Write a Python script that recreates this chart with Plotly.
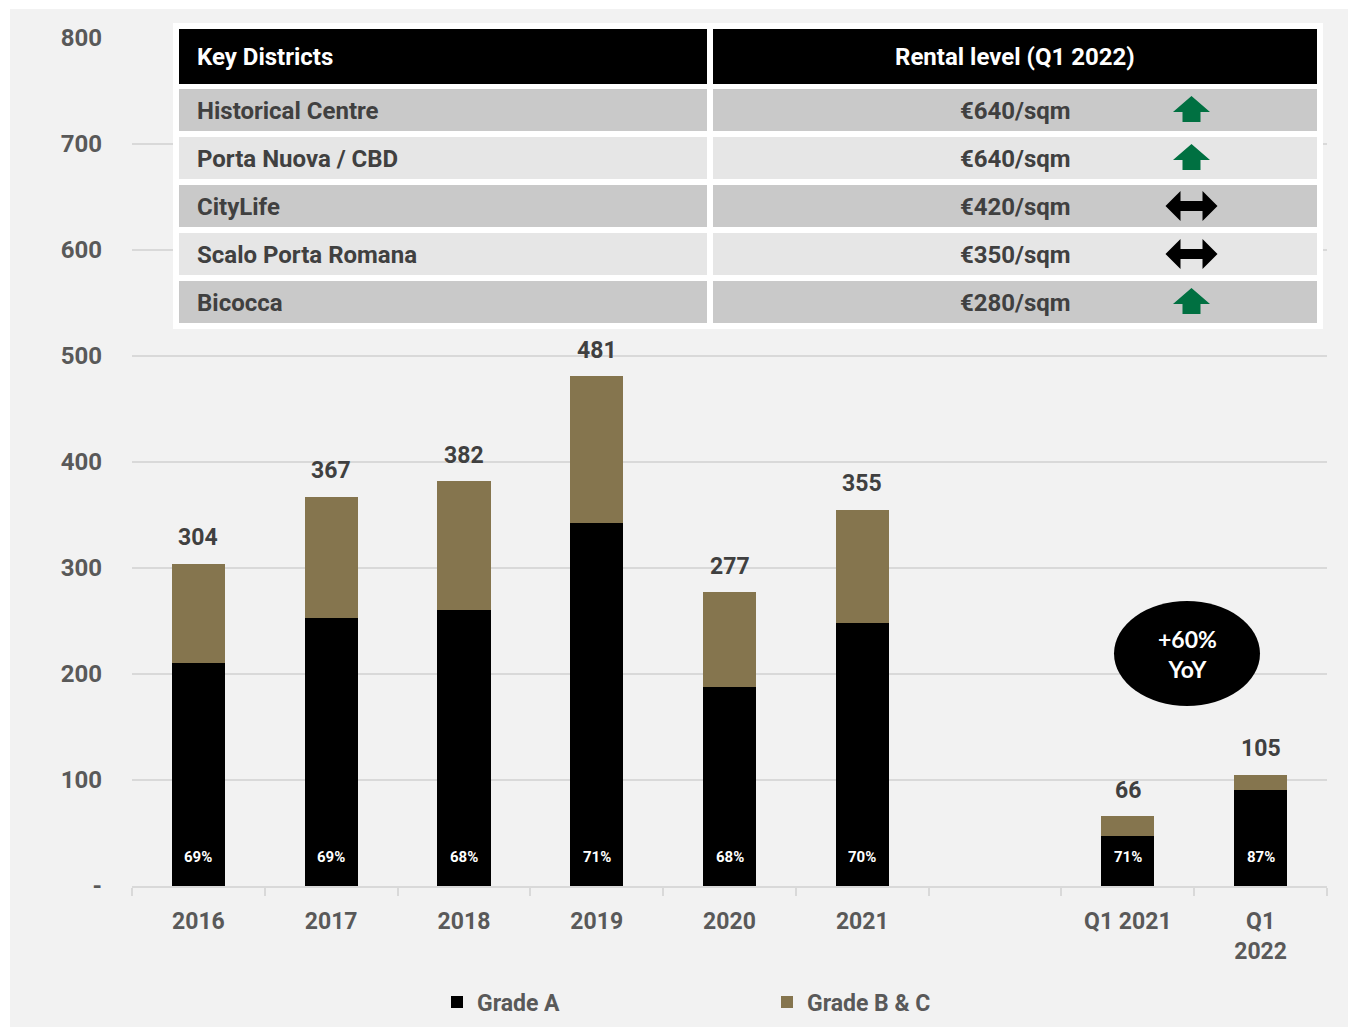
import plotly.graph_objects as go

# Take-up by year (sqm '000), split by grade
categories = ["2016", "2017", "2018", "2019", "2020", "2021", " ", "Q1 2021", "Q1<br>2022"]
totals = [304, 367, 382, 481, 277, 355, None, 66, 105]
grade_a_share = [69, 69, 68, 71, 68, 70, None, 71, 87]  # % of total that is Grade A

y_tick_values = [0, 100, 200, 300, 400, 500, 600, 700, 800]
y_tick_labels = ["-", "100", "200", "300", "400", "500", "600", "700", "800"]

# Rental levels table
table_header = ["Key Districts", "Rental level (Q1 2022)"]
districts = ["Historical Centre", "Porta Nuova / CBD", "CityLife", "Scalo Porta Romana", "Bicocca"]
rents = ["€640/sqm", "€640/sqm", "€420/sqm", "€350/sqm", "€280/sqm"]
trends = ["up", "up", "flat", "flat", "up"]

yoy_text = "+60%<br>YoY"

grade_a = [round(t * s / 100) if t is not None else None for t, s in zip(totals, grade_a_share)]
grade_bc = [t - a if t is not None else None for t, a in zip(totals, grade_a)]

W, H = 1348, 1027
ML, MR, MT, MB = 132, 21, 38, 141
PW, PH = W - ML - MR, H - MT - MB


def px_x(x):
    return (x - ML) / PW


def px_y(y):
    return (H - MB - y) / PH


def path_from_px(points):
    return "M " + " L ".join(f"{px_x(x):.5f},{px_y(y):.5f}" for x, y in points) + " Z"


BLACK = "#000000"
BROWN = "#85754E"
GREEN = "#007041"
AXIS_TXT = "#595959"
LABEL_TXT = "#404040"
GRID = "#d9d9d9"
FONT = "Roboto"

fig = go.Figure()
fig.add_trace(go.Bar(x=categories, y=grade_a, name="Grade A", marker_color=BLACK,
                     marker_line_width=0, hoverinfo="skip"))
fig.add_trace(go.Bar(x=categories, y=grade_bc, name="Grade B & C", marker_color=BROWN,
                     marker_line_width=0, hoverinfo="skip"))

annotations = []
shapes = []

# Totals above the bars, Grade A share at the bar base (positioned by category index)
for idx, (tot, share) in enumerate(zip(totals, grade_a_share)):
    if tot is None:
        continue
    annotations.append(dict(x=idx, y=tot, xref="x", yref="y", text=f"<b>{tot}</b>",
                            showarrow=False, yanchor="middle", yshift=26,
                            font=dict(family=FONT, size=23, color=LABEL_TXT)))
    annotations.append(dict(x=idx, y=0, xref="x", yref="y", text=f"<b>{share}%</b>",
                            showarrow=False, yanchor="middle", yshift=29,
                            font=dict(family=FONT, size=15, color="white")))

# Grey panel behind the chart
shapes.append(dict(type="rect", xref="paper", yref="paper", layer="below",
                   x0=px_x(10), x1=px_x(W), y0=px_y(9), y1=px_y(H),
                   fillcolor="#f2f2f2", line_width=0))

# Table frame
shapes.append(dict(type="rect", xref="paper", yref="paper",
                   x0=px_x(173), x1=px_x(1323), y0=px_y(23), y1=px_y(329),
                   fillcolor="white", line_width=0))
col_x = [(179, 707), (713, 1317)]
# header
for (x0, x1) in col_x:
    shapes.append(dict(type="rect", xref="paper", yref="paper",
                       x0=px_x(x0), x1=px_x(x1), y0=px_y(29), y1=px_y(84),
                       fillcolor=BLACK, line_width=0))
annotations.append(dict(x=px_x(195), y=px_y(57), xref="paper", yref="paper",
                        text=f"<b>{table_header[0]}</b>", showarrow=False,
                        xanchor="left", yanchor="middle",
                        font=dict(family=FONT, size=24, color="white")))
annotations.append(dict(x=px_x(1015), y=px_y(57), xref="paper", yref="paper",
                        text=f"<b>{table_header[1]}</b>", showarrow=False,
                        xanchor="center", yanchor="middle",
                        font=dict(family=FONT, size=24, color="white")))

for i, (name, rent, trend) in enumerate(zip(districts, rents, trends)):
    top = 89 + 48 * i
    bot = top + 42
    cy = (top + bot) / 2
    fill = "#c9c9c9" if i % 2 == 0 else "#e6e6e6"
    for (x0, x1) in col_x:
        shapes.append(dict(type="rect", xref="paper", yref="paper",
                           x0=px_x(x0), x1=px_x(x1), y0=px_y(top), y1=px_y(bot),
                           fillcolor=fill, line_width=0))
    annotations.append(dict(x=px_x(195), y=px_y(cy + 1), xref="paper", yref="paper",
                            text=f"<b>{name}</b>", showarrow=False,
                            xanchor="left", yanchor="middle",
                            font=dict(family=FONT, size=24, color=LABEL_TXT)))
    annotations.append(dict(x=px_x(1015), y=px_y(cy + 1), xref="paper", yref="paper",
                            text=f"<b>{rent}</b>", showarrow=False,
                            xanchor="center", yanchor="middle",
                            font=dict(family=FONT, size=24, color=LABEL_TXT)))
    cx = 1191.5
    if trend == "up":
        pts = [(cx, cy - 14), (cx + 18.5, cy + 2), (cx + 9, cy + 2), (cx + 9, cy + 12),
               (cx - 9, cy + 12), (cx - 9, cy + 2), (cx - 18.5, cy + 2)]
        color = GREEN
    else:
        pts = [(cx - 26, cy), (cx - 11, cy - 15), (cx - 11, cy - 5), (cx + 11, cy - 5),
               (cx + 11, cy - 15), (cx + 26, cy), (cx + 11, cy + 15), (cx + 11, cy + 5),
               (cx - 11, cy + 5), (cx - 11, cy + 15)]
        color = BLACK
    shapes.append(dict(type="path", xref="paper", yref="paper", path=path_from_px(pts),
                       fillcolor=color, line_width=0))

# YoY bubble
shapes.append(dict(type="circle", xref="paper", yref="paper",
                   x0=px_x(1114), x1=px_x(1260), y0=px_y(601), y1=px_y(706),
                   fillcolor=BLACK, line_width=0))
annotations.append(dict(x=px_x(1187), y=px_y(654), xref="paper", yref="paper",
                        text=f"<b>{yoy_text}</b>", showarrow=False,
                        xanchor="center", yanchor="middle",
                        font=dict(family="Lato", size=23, color="white")))

fig.update_layout(
    width=W, height=H, autosize=False,
    margin=dict(l=ML, r=MR, t=MT, b=MB, pad=0),
    paper_bgcolor="white", plot_bgcolor="rgba(0,0,0,0)",
    barmode="stack", bargap=0.6,
    font=dict(family=FONT, size=22, color=AXIS_TXT),
    showlegend=True,
    legend=dict(orientation="h", xref="container", yref="container",
                x=(437) / W, y=(H - 1002) / H, xanchor="left", yanchor="middle",
                entrywidth=285, entrywidthmode="pixels", traceorder="normal",
                itemwidth=30, bgcolor="rgba(0,0,0,0)",
                font=dict(family=FONT, size=23, color=AXIS_TXT, weight="bold")),
    xaxis=dict(type="category", categoryorder="array", categoryarray=categories,
               range=[-0.5, len(categories) - 0.5], automargin=False,
               showline=True, linecolor=GRID, linewidth=2,
               ticks="outside", tickson="boundaries", ticklen=8, tickcolor=GRID, tickwidth=2,
               tickfont=dict(family=FONT, size=23, color=AXIS_TXT, weight="bold"),
               ticklabelstandoff=13, showgrid=False, fixedrange=True),
    yaxis=dict(range=[0, 800], tickvals=y_tick_values, ticktext=y_tick_labels,
               showgrid=True, gridcolor=GRID, gridwidth=1.5, zeroline=False,
               showline=False, ticks="", automargin=False,
               tickfont=dict(family=FONT, size=24, color=AXIS_TXT, weight="bold"),
               ticklabelstandoff=29, fixedrange=True),
    shapes=shapes,
    annotations=annotations,
)

fig.write_html("out.html")
